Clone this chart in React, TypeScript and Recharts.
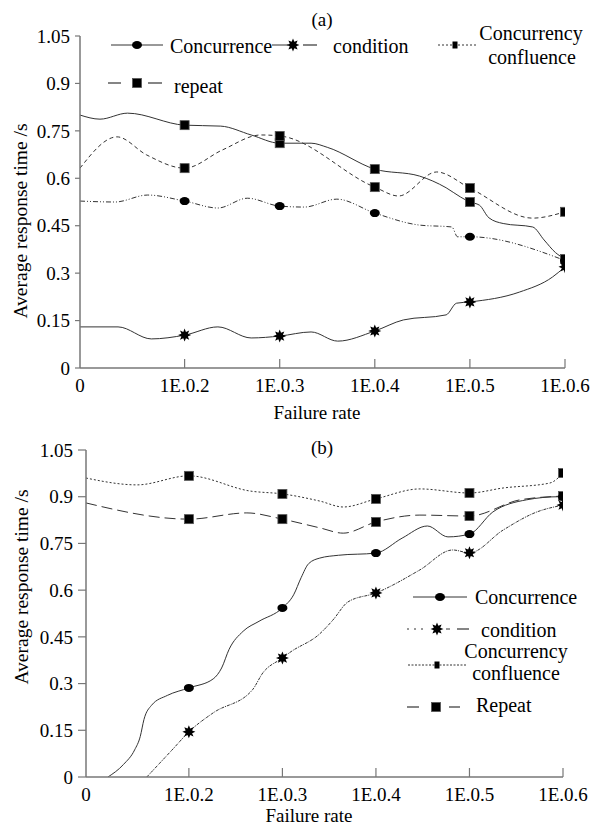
import React from 'react';
import { ComposedChart, Line, XAxis, YAxis } from 'recharts';

const FONT = "'Liberation Serif'";

// ---- axes ----
const X_TICKS = [0, 1.1, 2.1, 3.1, 4.1, 5.1];
const X_LABELS = ['0', '1E.0.2', '1E.0.3', '1E.0.4', '1E.0.5', '1E.0.6'];
const MARKER_X = [1.1, 2.1, 3.1, 4.1, 5.1];
const Y_TICKS = [0, 0.15, 0.3, 0.45, 0.6, 0.75, 0.9, 1.05];

// ---- panel (a) ----
const A1_X = [0, 0.21, 0.5, 1.1, 1.48, 1.8, 2.1, 2.43, 2.6, 3.1, 3.57, 3.85, 4.0, 4.1, 4.2, 4.3, 4.45, 4.76, 4.88, 5.0, 5.1];
const A1_Y = [0.8, 0.787, 0.806, 0.768, 0.765, 0.737, 0.711, 0.711, 0.698, 0.629, 0.607, 0.57, 0.541, 0.525, 0.515, 0.475, 0.457, 0.446, 0.405, 0.365, 0.345];
const A2_X = [0, 0.39, 0.7, 1.1, 1.5, 1.9, 2.1, 3.1, 3.35, 3.75, 4.1, 4.76, 5.1];
const A2_Y = [0.632, 0.731, 0.674, 0.632, 0.69, 0.737, 0.734, 0.572, 0.544, 0.62, 0.569, 0.474, 0.494];
const A3_X = [0, 0.37, 0.71, 1.1, 1.45, 1.76, 2.1, 2.36, 2.7, 3.1, 3.57, 3.91, 3.97, 4.1, 5.1];
const A3_Y = [0.528, 0.525, 0.547, 0.528, 0.506, 0.537, 0.512, 0.509, 0.534, 0.49, 0.452, 0.446, 0.415, 0.415, 0.34];
const A4_X = [0, 0.4, 0.75, 1.1, 1.45, 1.8, 2.1, 2.43, 2.71, 3.1, 3.4, 3.85, 3.96, 4.1, 4.62, 4.97, 5.1];
const A4_Y = [0.13, 0.13, 0.092, 0.104, 0.13, 0.095, 0.101, 0.114, 0.085, 0.117, 0.152, 0.168, 0.205, 0.209, 0.24, 0.288, 0.32];

// ---- panel (b) ----
const B1_X = [0, 0.545, 1.1, 1.76, 2.1, 2.5, 2.75, 3.1, 3.57, 4.1, 4.46, 4.96, 5.1];
const B1_Y = [0.96, 0.938, 0.967, 0.918, 0.909, 0.886, 0.867, 0.893, 0.925, 0.912, 0.928, 0.944, 0.976];
const B2_X = [0, 1.1, 1.72, 2.1, 2.5, 2.75, 3.1, 3.57, 4.1, 4.64, 5.1];
const B2_Y = [0.88, 0.828, 0.848, 0.828, 0.8, 0.783, 0.819, 0.841, 0.838, 0.89, 0.902];
const B3_X = [0.235, 0.4, 0.52, 0.58, 0.62, 0.7, 0.87, 1.1, 1.36, 1.45, 1.53, 1.68, 1.85, 2.1, 2.22, 2.3, 2.38, 2.5, 2.7, 3.1, 3.38, 3.65, 3.87, 4.1, 4.35, 4.71, 5.06, 5.1];
const B3_Y = [0, 0.04, 0.087, 0.13, 0.185, 0.23, 0.262, 0.286, 0.315, 0.35, 0.41, 0.468, 0.5, 0.543, 0.585, 0.64, 0.685, 0.703, 0.712, 0.719, 0.767, 0.806, 0.771, 0.78, 0.851, 0.89, 0.9, 0.9];
const B4_X = [0.65, 0.79, 0.93, 1.1, 1.36, 1.78, 1.89, 2.1, 2.18, 2.5, 2.64, 2.8, 3.1, 3.57, 3.92, 4.1, 4.46, 4.82, 5.1];
const B4_Y = [0, 0.045, 0.09, 0.145, 0.206, 0.28, 0.334, 0.382, 0.4, 0.46, 0.504, 0.562, 0.591, 0.665, 0.729, 0.72, 0.793, 0.851, 0.873];

type Pt = { x: number; y: number };
const toPts = (xs: number[], ys: number[]): Pt[] => xs.map((x, i) => ({ x, y: ys[i] }));

type Kind = 'circle' | 'square' | 'star' | 'smallsquare';

const starPoints = (cx: number, cy: number, ro: number, ri: number) => {
  const pts: string[] = [];
  for (let i = 0; i < 16; i++) {
    const a = (i * Math.PI) / 8 - Math.PI / 2;
    const r = i % 2 === 0 ? ro : ri;
    pts.push(`${cx + r * Math.cos(a)},${cy + r * Math.sin(a)}`);
  }
  return pts.join(' ');
};

const Marker = ({ kind, cx, cy }: { kind: Kind; cx: number; cy: number }) => {
  if (kind === 'circle') return <ellipse cx={cx} cy={cy} rx={5} ry={4} fill="#000" />;
  if (kind === 'square') return <rect x={cx - 4.5} y={cy - 4.5} width={9} height={9} fill="#000" stroke="#555" strokeWidth={0.8} />;
  if (kind === 'smallsquare') return <rect x={cx - 2.5} y={cy - 3.5} width={5} height={7} fill="#000" />;
  return <polygon points={starPoints(cx, cy, 6.5, 3.5)} fill="#000" />;
};

const dotFor = (kind: Kind) => (props: any) => {
  const { cx, cy, payload, index } = props;
  if (!payload || !MARKER_X.includes(payload.x) || cx == null || cy == null) return <g key={`n${index}`} />;
  return (
    <g key={`m${index}`}>
      <Marker kind={kind} cx={cx} cy={cy} />
    </g>
  );
};

const XTick = (props: any) => {
  const { x, y, payload } = props;
  const i = X_TICKS.indexOf(payload.value);
  return (
    <g>
      {payload.value !== 0 && <line x1={x} x2={x} y1={y} y2={y - 9} stroke="#777" strokeWidth={1.2} />}
      <text x={x} y={y + 17} dy="0.35em" textAnchor="middle" fontSize={19} style={{ fontFamily: FONT }} fill="#000">
        {X_LABELS[i]}
      </text>
    </g>
  );
};

const YTick = (props: any) => {
  const { x, y, payload } = props;
  return (
    <text x={x} y={y} dy="0.35em" textAnchor="end" fontSize={19} style={{ fontFamily: FONT }} fill="#000">
      {String(payload.value)}
    </text>
  );
};

const LINE = '#333';

const seriesLine = (data: Pt[], dash: string | undefined, kind: Kind, key: string) => (
  <Line
    key={key}
    data={data}
    dataKey="y"
    type="monotone"
    stroke={LINE}
    strokeWidth={1}
    strokeDasharray={dash}
    dot={dotFor(kind)}
    activeDot={false}
    isAnimationActive={false}
    legendType="none"
  />
);

const T = (p: any) => <text dominantBaseline="central" style={{ fontFamily: FONT }} fill="#000" {...p} />;

export default function App() {
  return (
    <div style={{ position: 'absolute', left: 0, top: 0, width: 591, height: 825, background: '#fff' }}>
      <div style={{ position: 'absolute', left: 0, top: 0 }}>
        <ComposedChart width={591} height={400} margin={{ top: 36, right: 26, bottom: 0, left: 0 }}>
          <XAxis
            type="number"
            dataKey="x"
            domain={[0, 5.1]}
            ticks={X_TICKS}
            interval={0}
            height={32}
            tickSize={0}
            tickMargin={0}
            tickLine={false}
            tick={<XTick />}
            axisLine={{ stroke: '#777', strokeWidth: 1.5 }}
            allowDataOverflow
          />
          <YAxis
            type="number"
            domain={[0, 1.05]}
            ticks={Y_TICKS}
            interval={0}
            width={80}
            tickSize={5}
            tickMargin={5}
            tickLine={{ stroke: '#777', strokeWidth: 1.2 }}
            axisLine={{ stroke: '#777', strokeWidth: 1.5 }}
            tick={<YTick />}
            allowDataOverflow
          />
          {seriesLine(toPts(A1_X, A1_Y), undefined, 'square', 'a1')}
          {seriesLine(toPts(A2_X, A2_Y), '4 3', 'square', 'a2')}
          {seriesLine(toPts(A3_X, A3_Y), '5 2 1 2 1 2', 'circle', 'a3')}
          {seriesLine(toPts(A4_X, A4_Y), undefined, 'star', 'a4')}
        </ComposedChart>
      </div>
      <div style={{ position: 'absolute', left: 0, top: 420 }}>
        <ComposedChart width={591} height={405} margin={{ top: 30, right: 28, bottom: 0, left: 0 }}>
          <XAxis
            type="number"
            dataKey="x"
            domain={[0, 5.1]}
            ticks={X_TICKS}
            interval={0}
            height={48}
            tickSize={0}
            tickMargin={0}
            tickLine={false}
            tick={<XTick />}
            axisLine={{ stroke: '#777', strokeWidth: 1.5 }}
            allowDataOverflow
          />
          <YAxis
            type="number"
            domain={[0, 1.05]}
            ticks={Y_TICKS}
            interval={0}
            width={86}
            tickSize={8}
            tickMargin={5}
            tickLine={{ stroke: '#777', strokeWidth: 1.2 }}
            axisLine={{ stroke: '#777', strokeWidth: 1.5 }}
            tick={<YTick />}
            allowDataOverflow
          />
          {seriesLine(toPts(B1_X, B1_Y), '2 2', 'square', 'b1')}
          {seriesLine(toPts(B2_X, B2_Y), '11 5', 'square', 'b2')}
          {seriesLine(toPts(B3_X, B3_Y), undefined, 'circle', 'b3')}
          {seriesLine(toPts(B4_X, B4_Y), '3 1 1 1', 'star', 'b4')}
        </ComposedChart>
      </div>
      <svg width={591} height={825} style={{ position: 'absolute', left: 0, top: 0, pointerEvents: 'none' }}>
        {/* titles */}
        <T x={322} y={19} fontSize={19} textAnchor="middle">(a)</T>
        <T x={322} y={447} fontSize={19} textAnchor="middle">(b)</T>
        {/* axis titles */}
        <T x={317} y={412} fontSize={19} textAnchor="middle">Failure rate</T>
        <T x={309} y={815} fontSize={19} textAnchor="middle">Failure rate</T>
        <T x={20} y={221} fontSize={19.5} textAnchor="middle" transform="rotate(-90 20 221)">Average response time /s</T>
        <T x={21} y={587} fontSize={19.5} textAnchor="middle" transform="rotate(-90 21 587)">Average response time /s</T>

        {/* legend (a) */}
        <line x1={111} x2={163} y1={45} y2={45} stroke={LINE} strokeWidth={1} />
        <Marker kind="circle" cx={137} cy={45} />
        <T x={170} y={46} fontSize={20}>Concurrence</T>
        <line x1={272} x2={288} y1={45} y2={45} stroke={LINE} strokeWidth={1} />
        <Marker kind="star" cx={293} cy={45} />
        <line x1={303} x2={317} y1={45} y2={45} stroke={LINE} strokeWidth={1.2} />
        <T x={333} y={46} fontSize={20}>condition</T>
        <line x1={438} x2={477} y1={45} y2={45} stroke={LINE} strokeWidth={1} strokeDasharray="2 2" />
        <Marker kind="smallsquare" cx={455} cy={45} />
        <T x={531} y={33} fontSize={20} textAnchor="middle">Concurrency</T>
        <T x={532} y={57} fontSize={20} textAnchor="middle">confluence</T>
        <line x1={108} x2={121} y1={83} y2={83} stroke={LINE} strokeWidth={1.2} />
        <Marker kind="square" cx={137} cy={83} />
        <line x1={148} x2={162} y1={83} y2={83} stroke={LINE} strokeWidth={1.2} />
        <T x={174} y={86} fontSize={20}>repeat</T>

        {/* legend (b) */}
        <line x1={413} x2={467} y1={597} y2={597} stroke={LINE} strokeWidth={1} />
        <Marker kind="circle" cx={440} cy={597} />
        <T x={475} y={597} fontSize={20}>Concurrence</T>
        <line x1={407} x2={428} y1={629} y2={629} stroke={LINE} strokeWidth={1} strokeDasharray="2 5" />
        <Marker kind="star" cx={437} cy={629} />
        <line x1={446} x2={450} y1={629} y2={629} stroke={LINE} strokeWidth={1} />
        <line x1={457} x2={469} y1={629} y2={629} stroke={LINE} strokeWidth={1.2} />
        <T x={481} y={630} fontSize={20}>condition</T>
        <T x={516} y={651} fontSize={20} textAnchor="middle">Concurrency</T>
        <T x={516} y={673} fontSize={20} textAnchor="middle">confluence</T>
        <line x1={408} x2={466} y1={665} y2={665} stroke={LINE} strokeWidth={1} strokeDasharray="2 1.5" />
        <Marker kind="smallsquare" cx={437} cy={665} />
        <line x1={407} x2={419} y1={707} y2={707} stroke={LINE} strokeWidth={1.2} />
        <Marker kind="square" cx={436} cy={707} />
        <line x1={449} x2={460} y1={707} y2={707} stroke={LINE} strokeWidth={1.2} />
        <T x={476} y={705} fontSize={20}>Repeat</T>
      </svg>
    </div>
  );
}
